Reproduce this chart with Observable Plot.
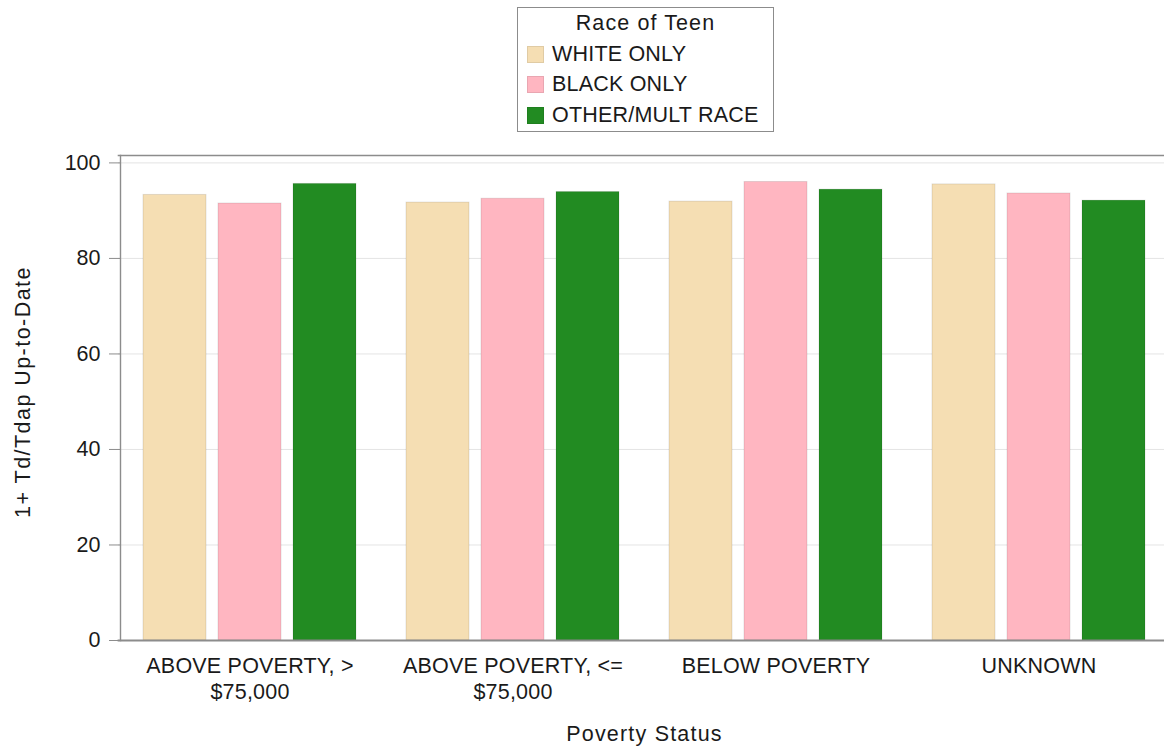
<!DOCTYPE html>
<html>
<head>
<meta charset="utf-8">
<script src="https://cdn.jsdelivr.net/npm/d3@7"></script>
<script src="https://cdn.jsdelivr.net/npm/@observablehq/plot@0.6"></script>
<style>
html, body { margin: 0; padding: 0; overflow: hidden; background: #fff; }
body { font-family: "Liberation Sans", Arial, sans-serif; color: #1a1a1a; }
#wrap { position: relative; width: 1180px; height: 747px; }
#legend { position: absolute; left: 517px; top: 7px; width: 257px; height: 125px;
  border: 1px solid #8c8c8c; box-sizing: border-box; font-size: 21.5px; }
#legend .title { height: 31px; line-height: 31px; text-align: center; letter-spacing: 1.1px; }
#legend .item { height: 30.5px; display: flex; align-items: center; padding-left: 9px; letter-spacing: 0.2px; }
#legend .sw { width: 17px; height: 17px; margin-right: 8px; box-sizing: border-box; }
#chart { position: absolute; left: 0; top: 140px; }
#chart .ylab text { letter-spacing: 1.45px; }
#chart [aria-label="fx-axis label"] text { letter-spacing: 1.2px; }
#chart [aria-label="fx-axis tick label"] text { letter-spacing: 0.2px; }
</style>
</head>
<body>
<div id="wrap">
  <div id="legend"></div>
  <div id="chart"></div>
</div>
<script>
// ---- data ----
const groups = ["ABOVE POVERTY, > $75,000", "ABOVE POVERTY, <= $75,000", "BELOW POVERTY", "UNKNOWN"];
const groupTickLabels = ["ABOVE POVERTY, >\n$75,000", "ABOVE POVERTY, <=\n$75,000", "BELOW POVERTY", "UNKNOWN"];
const races = ["WHITE ONLY", "BLACK ONLY", "OTHER/MULT RACE"];
const raceColors = ["#F5DEB3", "#FFB6C1", "#228B22"];
const whiteOnly = [93.3, 91.7, 91.9, 95.5];
const blackOnly = [91.5, 92.5, 96.0, 93.6];
const otherMult = [95.6, 93.9, 94.4, 92.1];
const yTicks = [0, 20, 40, 60, 80, 100];
const legendTitle = "Race of Teen";
const yLabel = "1+ Td/Tdap Up-to-Date";
const xLabel = "Poverty Status";

const seriesValues = [whiteOnly, blackOnly, otherMult];
const table = [];
groups.forEach((g, i) => races.forEach((r, j) => table.push({group: g, race: r, value: seriesValues[j][i]})));

// ---- legend ----
const legend = document.getElementById("legend");
const t = document.createElement("div");
t.className = "title"; t.textContent = legendTitle; legend.appendChild(t);
races.forEach((r, j) => {
  const it = document.createElement("div"); it.className = "item";
  const sw = document.createElement("div"); sw.className = "sw";
  sw.style.background = raceColors[j];
  sw.style.border = "1px solid " + d3.color(raceColors[j]).darker(0.25);
  const lab = document.createElement("span"); lab.textContent = r;
  it.appendChild(sw); it.appendChild(lab); legend.appendChild(it);
});

// ---- chart ----
const frameColor = "#8c8c8c";
const chart = Plot.plot({
  width: 1180,
  height: 607,
  marginTop: 15,
  marginBottom: 107,
  marginLeft: 117,
  marginRight: 9,
  style: {fontFamily: "'Liberation Sans', Arial, sans-serif", fontSize: "21.5px", color: "#1a1a1a", background: "#fff", overflow: "visible"},
  fx: {domain: groups, padding: 0},
  x: {domain: races, paddingInner: 0.166, paddingOuter: 0.325, axis: null},
  y: {domain: [0, 101.55]},
  color: {domain: races, range: raceColors},
  marks: [
    Plot.gridY(yTicks, {stroke: "#e4e4e4", strokeOpacity: 1}),
    Plot.barY(table, {fx: "group", x: "race", y: "value", fill: "race"}),
    Plot.barY(table, {fx: "group", x: "race", y: "value", fill: "none", stroke: "#000", strokeOpacity: 0.1}),
    Plot.frame({facet: "super", anchor: "top", stroke: frameColor, strokeWidth: 1.6}),
    Plot.frame({facet: "super", anchor: "bottom", stroke: frameColor, strokeWidth: 1.8}),
    Plot.frame({facet: "super", anchor: "left", dx: 2, stroke: frameColor, strokeWidth: 1.4}),
    Plot.axisY({ticks: yTicks, tickSize: 11, tickPadding: 9, dx: 2, stroke: frameColor, label: null}),
    Plot.text([yLabel], {facet: "super", frameAnchor: "left", textAnchor: "middle", lineAnchor: "middle",
      rotate: -90, dx: -95, dy: -6, text: d => d, fontSize: 21.5, className: "ylab"}),
    Plot.axisFx({anchor: "bottom", tickSize: 0, tickPadding: 14, lineHeight: 1.22,
      tickFormat: d => groupTickLabels[groups.indexOf(d)],
      label: xLabel, labelAnchor: "center", labelArrow: "none", labelOffset: 100})
  ]
});
document.getElementById("chart").appendChild(chart);
</script>
</body>
</html>
